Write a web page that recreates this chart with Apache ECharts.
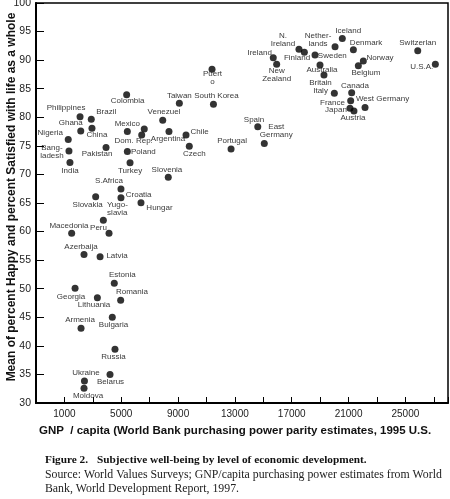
<!DOCTYPE html>
<html>
<head>
<meta charset="utf-8">
<script src="https://cdn.jsdelivr.net/npm/echarts@6/dist/echarts.min.js"></script>
<style>
html,body{margin:0;padding:0;background:#fff;}
#chart{width:450px;height:499px;}
</style>
</head>
<body>
<div id="chart"></div>
<script>
// ---- data ----
const countries = ["Philippines","Brazil","Ghana","China","Nigeria","Bangladesh","India","Pakistan","Mexico","Unlabeled","Dom. Rep.","Poland","Turkey","Argentina","Chile","Czech","Venezuela","Colombia","Taiwan","South Korea","Puerto Rico","Portugal","Spain","East Germany","Slovenia","S.Africa","Croatia","Slovakia","Yugoslavia","Hungary","Peru","Macedonia","Azerbaijan","Latvia","Estonia","Georgia","Romania","Lithuania","Armenia","Bulgaria","Russia","Ukraine","Belarus","Moldova","Ireland","N. Ireland","Finland","Netherlands","Iceland","Denmark","Sweden","Norway","Belgium","Switzerland","U.S.A.","New Zealand","Australia","Britain","Italy","Canada","France","Japan","Austria","West Germany"];
const pointLabels = ["Philippines","Brazil","Ghana","China","Nigeria","Bang-\nladesh","India","Pakistan","Mexico","","Dom. Rep.","Poland","Turkey","Argentina","Chile","Czech","Venezuel","Colombia","Taiwan","South Korea","Puert\no","Portugal","Spain","East\nGermany","Slovenia","S.Africa","Croatia","Slovakia","Yugo-\nslavia","Hungar","Peru","Macedonia","Azerbaija","Latvia","Estonia","Georgia","Romania","Lithuania","Armenia","Bulgaria","Russia","Ukraine","Belarus","Moldova","Ireland","N.\nIreland","Finland","Nether-\nlands","Iceland","Denmark","Sweden","Norway","Belgium","Switzerlan","U.S.A.","New\nZealand","Australia","Britain","Italy","Canada","France","Japan","Austria","West Germany"];
const gnpPerCapita = [2100,2890,2150,2940,1270,1320,1390,3930,5430,6620,6440,5430,5620,8360,9560,9790,7920,5380,9090,11490,11390,12730,14610,15070,8310,4980,4980,3200,3740,6390,4140,1510,2380,3510,4510,1750,4960,3320,2170,4370,4560,2410,4210,2380,15700,17510,17890,20050,20560,21340,18640,22040,21690,25870,27110,15940,18990,19270,20000,21220,21150,21100,21380,22160];
const wellBeing = [80.1,79.65,77.6,78.1,76.1,74.1,72.1,74.7,77.5,77.95,76.9,74.0,72.05,77.5,76.9,74.95,79.5,83.95,82.45,82.3,88.4,74.45,78.35,75.4,69.5,67.45,65.9,66.1,62.0,65.05,59.7,59.7,56.0,55.6,50.95,50.1,48.0,48.4,43.1,45.0,39.4,33.85,35.0,32.6,90.4,91.9,91.4,92.35,93.8,91.8,90.9,89.85,89.0,91.65,89.3,89.3,89.15,87.4,84.2,84.3,82.9,81.6,81.1,81.7];
const xTickLabels = [1000,5000,9000,13000,17000,21000,25000];
const yTickLabels = [30,35,40,45,50,55,60,65,70,75,80,85,90,95,100];

// ---- label layout (offset of label centre from the dot, px) ----
const labelOffset = {
 "Philippines":[-14,-9],"Brazil":[15,-7],"Ghana":[-10,-8],"China":[5,7],"Nigeria":[-18,-6.5],
 "Bangladesh":[-17,0.5],"India":[0,8],"Pakistan":[-9,6],"Mexico":[0,-7.5],"Dom. Rep.":[-8,6],
 "Poland":[16,0],"Turkey":[0,8],"Argentina":[-1,7],"Chile":[13.5,-3.3],"Czech":[5,8],
 "Venezuela":[1.3,-8.3],"Colombia":[1,6.5],"Taiwan":[0,-7.6],"South Korea":[3,-8],"Puerto Rico":[0.5,8.6],
 "Portugal":[1,-8.3],"Spain":[-3.7,-7.4],"East Germany":[12,-12.7],"Slovenia":[-1.3,-7.3],"S.Africa":[-12,-8.3],
 "Croatia":[17.7,-3.4],"Slovakia":[-8,8.3],"Yugoslavia":[14,-11.5],"Hungary":[18.5,4.6],"Peru":[-10.5,-5.6],
 "Macedonia":[-2.7,-7.6],"Azerbaijan":[-3,-7.6],"Latvia":[17,-0.7],"Estonia":[8,-8.3],"Georgia":[-4,8.4],
 "Romania":[11.3,-8.3],"Lithuania":[-3.3,7.3],"Armenia":[-1,-8.3],"Bulgaria":[1.2,7.7],"Russia":[-1.5,7.4],
 "Ukraine":[1.5,-8.4],"Belarus":[0.5,7.4],"Moldova":[4,7.7],"Ireland":[-13.6,-5.4],"N. Ireland":[-16,-9.8],
 "Finland":[-7.3,6],"Netherlands":[-17,-7.4],"Iceland":[6,-7.3],"Denmark":[12.7,-7],"Sweden":[17.3,1],
 "Norway":[16.7,-3],"Belgium":[7.5,7.3],"Switzerland":[0,-7.7],"U.S.A.":[-13.6,3],"New Zealand":[0,11],
 "Australia":[2,5],"Britain":[-3.5,7.5],"Italy":[-13.8,-2.6],"Canada":[3.3,-7],"France":[-18.2,2],
 "Japan":[-14,1.7],"Austria":[-1,6.7],"West Germany":[17.5,-8.4]
};

const SYM = 7; // symbol size; label positions are relative to the symbol's box
const seriesData = countries.map((c, i) => {
  const off = labelOffset[c] || [0, 0];
  return {
    name: c,
    value: [gnpPerCapita[i], wellBeing[i]],
    label: { formatter: pointLabels[i], position: [SYM / 2 + off[0], SYM / 2 + off[1]] }
  };
});

const chart = echarts.init(document.getElementById('chart'), null, {renderer: 'canvas'});
const sans = '"Liberation Sans", Arial, sans-serif';
const serif = '"Liberation Serif", "Times New Roman", serif';

chart.setOption({
  backgroundColor: '#fff',
  animation: false,
  grid: {left: 36, right: 2, top: 3, bottom: 96, containLabel: false, outerBoundsMode: 'none',
         show: true, borderColor: '#000', borderWidth: 1.5, backgroundColor: 'transparent'},
  xAxis: {
    type: 'value', min: -1000, max: 28000, interval: 2000,
    axisLine: {show: true, onZero: false, lineStyle: {color: '#000', width: 2}},
    axisTick: {show: true, inside: true, length: 6, lineStyle: {color: '#000', width: 1}},
    axisLabel: {
      fontFamily: sans, fontSize: 10, color: '#222', margin: 6,
      formatter: v => xTickLabels.includes(v) ? String(v) : ''
    },
    splitLine: {show: false}
  },
  yAxis: {
    type: 'value', min: 30, max: 100, interval: 5,
    axisLine: {show: true, onZero: false, lineStyle: {color: '#000', width: 2}},
    axisTick: {show: true, inside: true, length: 8, lineStyle: {color: '#000', width: 1}},
    axisLabel: {
      fontFamily: sans, fontSize: 10.5, color: '#222', margin: 5,
      formatter: v => yTickLabels.includes(v) ? String(v) : ''
    },
    splitLine: {show: false}
  },
  series: [{
    type: 'scatter',
    symbol: 'circle', symbolSize: SYM,
    itemStyle: {color: '#000'},
    label: {
      show: true, align: 'center', verticalAlign: 'middle',
      fontFamily: sans, fontSize: 8, lineHeight: 8, color: '#000'
    },
    labelLayout: {hideOverlap: false},
    data: seriesData
  }],
  graphic: [
    {type: 'text', x: 12, y: 197, rotation: Math.PI / 2,
     style: {text: 'Mean of percent Happy and percent Satisfied with life as a whole', font: 'bold 12px ' + sans, fill: '#111', align: 'center', verticalAlign: 'middle'}},
    {type: 'text', left: 39, top: 425, style: {text: 'GNP  / capita (World Bank purchasing power parity estimates, 1995 U.S.', font: 'bold 11.5px ' + sans, fill: '#111'}},
    {type: 'text', left: 45, top: 455, style: {text: 'Figure 2.', font: 'bold 11.3px ' + serif, fill: '#111'}},
    {type: 'text', left: 97, top: 455, style: {text: 'Subjective well-being by level of economic development.', font: 'bold 11.3px ' + serif, fill: '#111'}},
    {type: 'text', left: 45, top: 469, style: {text: 'Source: World Values Surveys; GNP/capita purchasing power estimates from World', font: '11.8px ' + serif, fill: '#222'}},
    {type: 'text', left: 45, top: 483, style: {text: 'Bank, World Development Report, 1997.', font: '11.8px ' + serif, fill: '#222'}}
  ]
});
</script>
</body>
</html>
